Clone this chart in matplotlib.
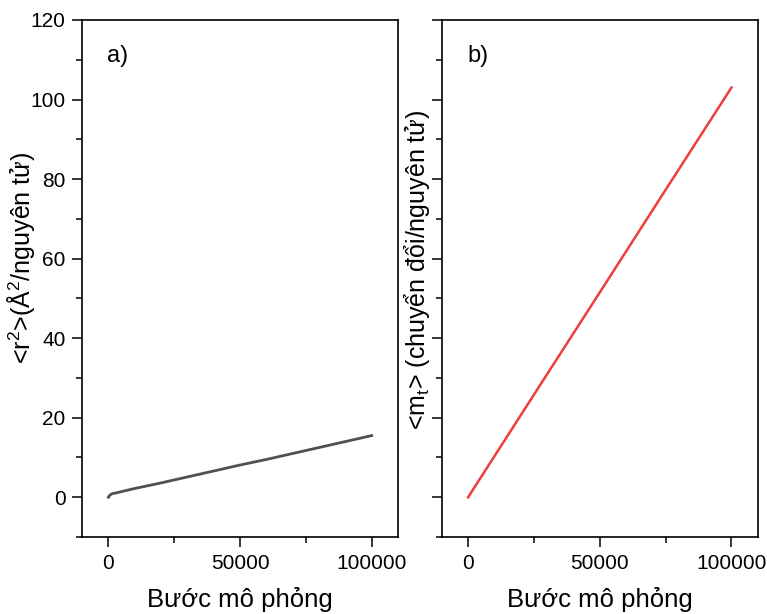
import matplotlib
matplotlib.use("Agg")
import matplotlib.pyplot as plt
from matplotlib.ticker import MultipleLocator

plt.rcParams['font.family'] = ['Liberation Sans', 'DejaVu Sans']
plt.rcParams['mathtext.fontset'] = 'custom'
plt.rcParams['mathtext.rm'] = 'Liberation Sans'
plt.rcParams['mathtext.it'] = 'Liberation Sans'

# data
steps_a = [0, 500, 1500, 3000, 10000, 20000, 30000, 40000, 50000,
           60000, 70000, 80000, 90000, 100000]
msd_a = [0.0, 0.5, 0.9, 1.1, 2.2, 3.6, 5.1, 6.6, 8.1,
         9.5, 11.0, 12.5, 14.0, 15.5]
steps_b = [0, 25000, 50000, 75000, 100000]
jumps_b = [0.0, 25.8, 51.5, 77.3, 103.0]

xlabel = "Bước mô phỏng"
ylabel_a = "<r$^2$>(Å$^2$/nguyên tử)"
ylabel_b = "<m$_t$> (chuyển đổi/nguyên tử)"

fig = plt.figure(figsize=(7.67, 6.14), dpi=100)
ax1 = fig.add_axes([0.107, 0.1254, 0.412, 0.8421])
ax2 = fig.add_axes([0.576, 0.1254, 0.412, 0.8421])

ax1.plot(steps_a, msd_a, color='#505050', lw=2)
ax2.plot(steps_b, jumps_b, color='#f03c3c', lw=1.8)

for ax in (ax1, ax2):
    ax.set_xlim(-10000, 110000)
    ax.set_ylim(-10, 120)
    ax.xaxis.set_major_locator(MultipleLocator(50000))
    ax.xaxis.set_minor_locator(MultipleLocator(25000))
    ax.yaxis.set_major_locator(MultipleLocator(20))
    ax.yaxis.set_minor_locator(MultipleLocator(10))
    ax.tick_params(which='major', direction='out', length=7, width=1.1,
                   labelsize=15, pad=5)
    ax.tick_params(which='minor', direction='out', length=4, width=1.1)
    for s in ax.spines.values():
        s.set_linewidth(1.2)
    ax.set_xlabel(xlabel, fontsize=18.5, labelpad=10)

ax2.tick_params(axis='y', labelleft=False)

ax1.set_ylabel(ylabel_a, fontsize=18)
ax2.set_ylabel(ylabel_b, fontsize=18)
ax1.yaxis.set_label_coords(-0.142, 0.539)
ax2.yaxis.set_label_coords(-0.032, 0.516)

ax1.text(0.08, 0.93, "a)", transform=ax1.transAxes, fontsize=17, va='center')
ax2.text(0.08, 0.93, "b)", transform=ax2.transAxes, fontsize=17, va='center')

plt.savefig("out.png", dpi=100)
